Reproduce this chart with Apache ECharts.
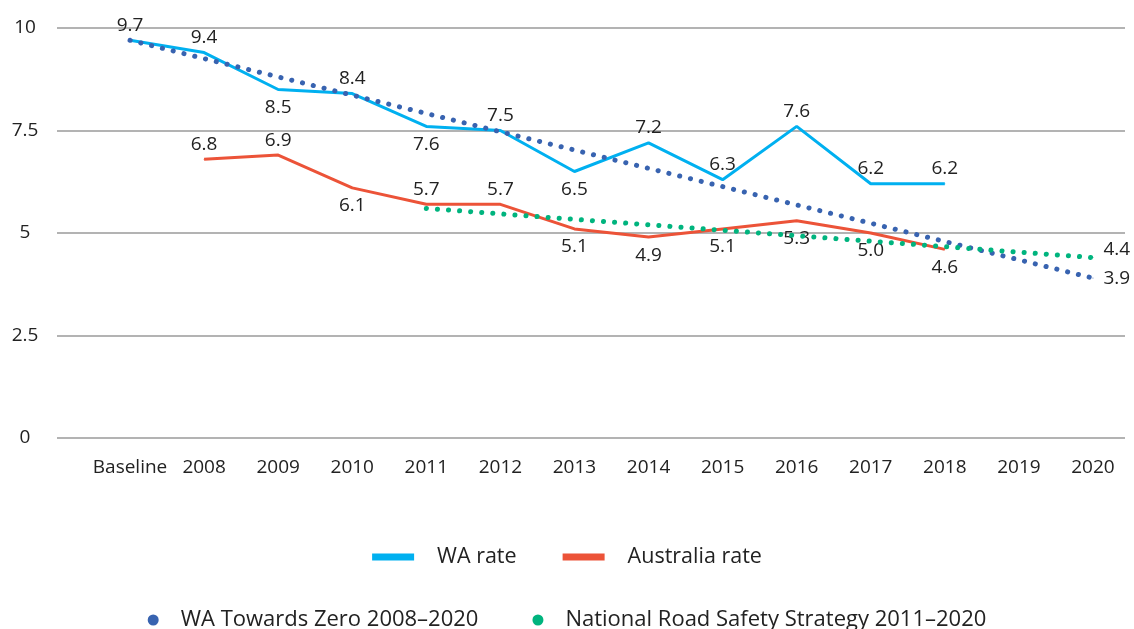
<!DOCTYPE html>
<html>
<head>
<meta charset="utf-8">
<script src="https://cdn.jsdelivr.net/npm/echarts@6/dist/echarts.min.js"></script>
<style>
  html, body { margin: 0; padding: 0; background: #fff; }
  #chart { width: 1134px; height: 629px; }
</style>
</head>
<body>
<div id="chart"></div>
<script>
// categories and values
var categories = ['Baseline', '2008', '2009', '2010', '2011', '2012', '2013', '2014', '2015', '2016', '2017', '2018', '2019', '2020'];
var waRate = [9.7, 9.4, 8.5, 8.4, 7.6, 7.5, 6.5, 7.2, 6.3, 7.6, 6.2, 6.2, null, null];
var ausRate = [null, 6.8, 6.9, 6.1, 5.7, 5.7, 5.1, 4.9, 5.1, 5.3, 5.0, 4.6, null, null];
// targets: only start and end are given, line joins them
var waTarget = [9.7, null, null, null, null, null, null, null, null, null, null, null, null, 3.9];
var nrssTarget = [null, null, null, null, 5.6, null, null, null, null, null, null, null, null, 4.4];
var yTicks = [0, 2.5, 5, 7.5, 10];

// label placement (style only)
var waPos = ['top', 'top', 'bottom', 'top', 'bottom', 'top', 'bottom', 'top', 'top', 'top', 'top', 'top'];
var ausPos = [null, 'top', 'top', 'bottom', 'top', 'top', 'bottom', 'bottom', 'bottom', 'bottom', 'bottom', 'bottom'];

var FONT = '"Open Sans", "Noto Sans", sans-serif';
var TXT = '#222';

function withLabels(values, positions) {
  return values.map(function (v, i) {
    if (v == null) return null;
    var p = positions[i] || 'top';
    return {
      value: v,
      label: { position: p, distance: p === 'bottom' ? 8 : 5 }
    };
  });
}

function endLabel(values, offsetY) {
  var last = values.length - 1;
  return values.map(function (v, i) {
    if (v == null) return null;
    if (i !== last) return { value: v, label: { show: false } };
    return { value: v, label: { show: true, position: 'right', distance: 10, offset: [0, offsetY] } };
  });
}

function fmt(p) { return p.value.toFixed(1); }

var chart = echarts.init(document.getElementById('chart'), null, { renderer: 'canvas' });

chart.setOption({
  animation: false,
  textStyle: { fontFamily: FONT },
  grid: [
    { left: 57, right: 9, top: 28, bottom: 191 },
    { left: 93, right: 4, top: 28, bottom: 191 }
  ],
  xAxis: [
    { gridIndex: 0, type: 'value', min: 0, max: 1, show: false },
    {
      gridIndex: 1,
      type: 'category',
      data: categories,
      axisLine: { show: false },
      axisTick: { show: false },
      axisLabel: { color: TXT, fontSize: 19, margin: 20, fontFamily: FONT, interval: 0 }
    }
  ],
  yAxis: [
    {
      gridIndex: 0,
      type: 'value',
      min: yTicks[0],
      max: yTicks[yTicks.length - 1],
      interval: 2.5,
      axisLine: { show: false },
      axisTick: { show: false },
      axisLabel: { color: TXT, fontSize: 19, margin: 32, align: 'center', fontFamily: FONT },
      splitLine: { lineStyle: { color: '#9a9a9a', width: 1.5 } }
    },
    { gridIndex: 1, type: 'value', min: 0, max: 10, show: false }
  ],
  legend: [
    {
      top: 541,
      left: 'center',
      itemWidth: 42,
      itemHeight: 7,
      itemGap: 46,
      icon: 'rect',
      textStyle: { color: TXT, fontSize: 21.5, fontFamily: FONT, padding: [0, 0, 0, 18] },
      data: ['WA rate', 'Australia rate']
    },
    {
      top: 604,
      left: 'center',
      itemWidth: 11,
      itemHeight: 11,
      itemGap: 54,
      icon: 'circle',
      textStyle: { color: TXT, fontSize: 22, fontFamily: FONT, padding: [0, 0, 0, 17] },
      data: ['WA Towards Zero 2008\u20132020', 'National Road Safety Strategy 2011\u20132020']
    }
  ],
  series: [
    {
      name: 'WA rate',
      type: 'line',
      xAxisIndex: 1,
      yAxisIndex: 1,
      data: withLabels(waRate, waPos),
      symbol: 'circle',
      symbolSize: 1,
      color: '#00b0f0',
      lineStyle: { color: '#00b0f0', width: 3 },
      label: { show: true, color: TXT, fontSize: 19, fontFamily: FONT, formatter: fmt },
      z: 2
    },
    {
      name: 'Australia rate',
      type: 'line',
      xAxisIndex: 1,
      yAxisIndex: 1,
      data: withLabels(ausRate, ausPos),
      symbol: 'circle',
      symbolSize: 1,
      color: '#ec5338',
      lineStyle: { color: '#ec5338', width: 3 },
      label: { show: true, color: TXT, fontSize: 19, fontFamily: FONT, formatter: fmt },
      z: 2
    },
    {
      name: 'WA Towards Zero 2008\u20132020',
      type: 'line',
      xAxisIndex: 1,
      yAxisIndex: 1,
      data: endLabel(waTarget, 0),
      connectNulls: true,
      symbol: 'circle',
      symbolSize: 1,
      color: '#3863b0',
      lineStyle: { color: '#3863b0', width: 5, type: [0.1, 11], cap: 'round' },
      label: { color: TXT, fontSize: 19, fontFamily: FONT, formatter: fmt },
      z: 3
    },
    {
      name: 'National Road Safety Strategy 2011\u20132020',
      type: 'line',
      xAxisIndex: 1,
      yAxisIndex: 1,
      data: endLabel(nrssTarget, -8),
      connectNulls: true,
      symbol: 'circle',
      symbolSize: 1,
      color: '#00b47e',
      lineStyle: { color: '#00b47e', width: 5, type: [0.1, 11], cap: 'round' },
      label: { color: TXT, fontSize: 19, fontFamily: FONT, formatter: fmt },
      z: 3
    }
  ]
});
</script>
</body>
</html>
